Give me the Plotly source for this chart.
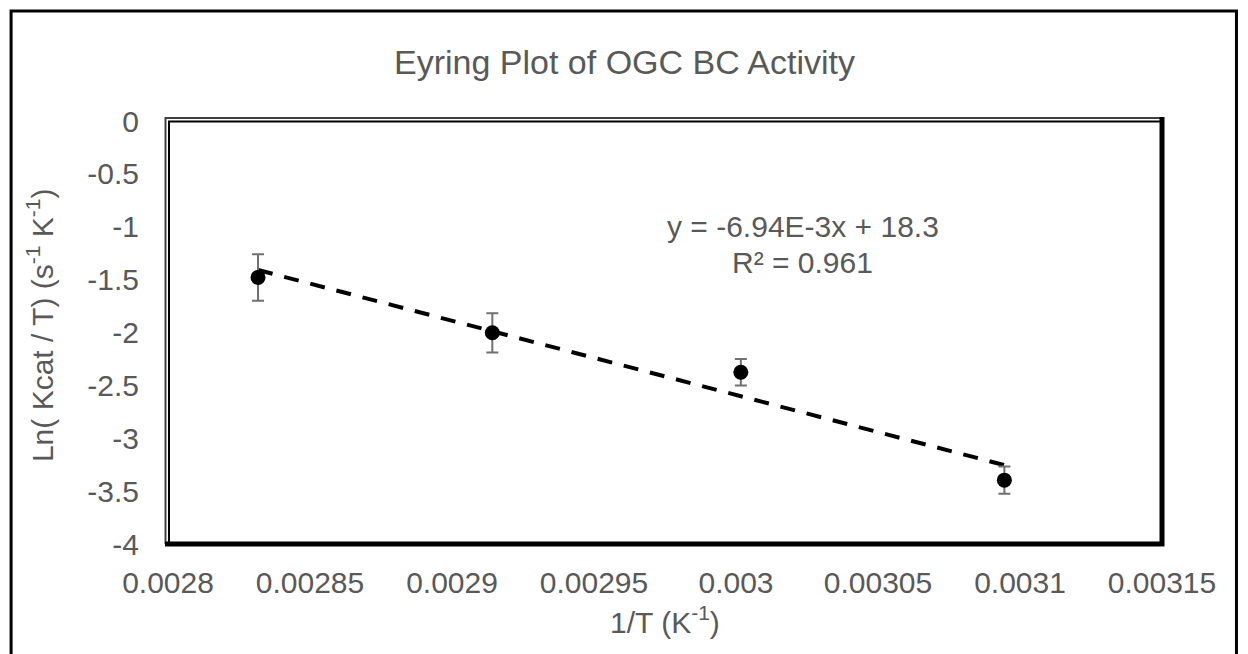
import numpy as np
import plotly.graph_objects as go

# Eyring data: 1/T (K^-1) versus ln(kcat/T)
inv_temp = [0.0028317, 0.0029142, 0.0030017, 0.0030945]
ln_kcat_over_t = [-1.479, -2.003, -2.376, -3.396]
ln_err = [0.22, 0.185, 0.126, 0.13]

x_ticks = [0.0028, 0.00285, 0.0029, 0.00295, 0.003, 0.00305, 0.0031, 0.00315]
x_tick_text = ["0.0028", "0.00285", "0.0029", "0.00295", "0.003", "0.00305", "0.0031", "0.00315"]
y_ticks = [0, -0.5, -1, -1.5, -2, -2.5, -3, -3.5, -4]
y_tick_text = ["0", "-0.5", "-1", "-1.5", "-2", "-2.5", "-3", "-3.5", "-4"]

equation_text = "y = -6.94E-3x + 18.3"
r2_text = "R² = 0.961"

# linear trendline through the measured points
slope, intercept = np.polyfit(inv_temp, ln_kcat_over_t, 1)
fit_x = [min(inv_temp), max(inv_temp)]
fit_y = [slope * v + intercept for v in fit_x]

W, H = 1248, 654
L, R, T, B = 168, 1162.5, 121, 544
PW, PH = R - L, B - T


def px(x):
    return (x - L) / PW


def py(y):
    return (B - y) / PH


FONT = "Arial, Liberation Sans, sans-serif"
GREY = "#595959"

fig = go.Figure()
fig.add_trace(go.Scatter(
    x=fit_x, y=fit_y, mode="lines",
    line=dict(color="black", width=4, dash="15px,12px"),
    hoverinfo="skip", showlegend=False,
))
fig.add_trace(go.Scatter(
    x=inv_temp, y=ln_kcat_over_t, mode="markers",
    marker=dict(color="black", size=15),
    error_y=dict(type="data", array=ln_err, visible=True,
                 color="#707070", thickness=2, width=6),
    showlegend=False,
))

shapes = [
    # outer chart frame
    dict(type="rect", xref="paper", yref="paper",
         x0=px(11), x1=px(1237), y0=py(680), y1=py(11),
         line=dict(color="black", width=3), fillcolor="rgba(0,0,0,0)", layer="above"),
    # plot area frame: double line top/left, heavy line bottom/right
    dict(type="path", xref="paper", yref="paper",
         path=f"M {px(165.5)} {py(B)} L {px(165.5)} {py(118)} L {px(R)} {py(118)}",
         line=dict(color="#404040", width=2), layer="above"),
    dict(type="path", xref="paper", yref="paper",
         path=f"M {px(169)} {py(B)} L {px(169)} {py(121.5)} L {px(R)} {py(121.5)}",
         line=dict(color="black", width=2), layer="above"),
    dict(type="path", xref="paper", yref="paper",
         path=f"M {px(165)} {py(B)} L {px(R)} {py(B)} L {px(R)} {py(117)}",
         line=dict(color="black", width=5), layer="above"),
]


def label(text, x, y, size=30, angle=0):
    return dict(text=text, x=px(x), y=py(y), xref="paper", yref="paper",
                xanchor="center", yanchor="middle", showarrow=False,
                textangle=angle, font=dict(family=FONT, size=size, color=GREY))


annotations = [
    label("Eyring Plot of OGC BC Activity", 625, 62, size=34),
    label(equation_text, 803, 226),
    label(r2_text, 803, 262),
    label("1/T (K<sup>-1</sup>)", 665, 620),
    label("Ln( Kcat / T) (s<sup>-1</sup> K<sup>-1</sup>)", 40, 325, angle=-90),
]

fig.update_layout(
    width=W, height=H,
    margin=dict(l=L, r=W - R, t=T, b=H - B, pad=0),
    paper_bgcolor="white", plot_bgcolor="white",
    shapes=shapes, annotations=annotations,
    xaxis=dict(range=[0.0028, 0.00315], tickvals=x_ticks, ticktext=x_tick_text,
               showgrid=False, zeroline=False, showline=False,
               ticks="", ticklabelstandoff=18,
               tickfont=dict(family=FONT, size=30, color=GREY)),
    yaxis=dict(range=[-4, 0], tickvals=y_ticks, ticktext=y_tick_text,
               showgrid=False, zeroline=False, showline=False,
               ticks="", ticklabelstandoff=28,
               tickfont=dict(family=FONT, size=30, color=GREY)),
)

fig.write_html("out.html")
